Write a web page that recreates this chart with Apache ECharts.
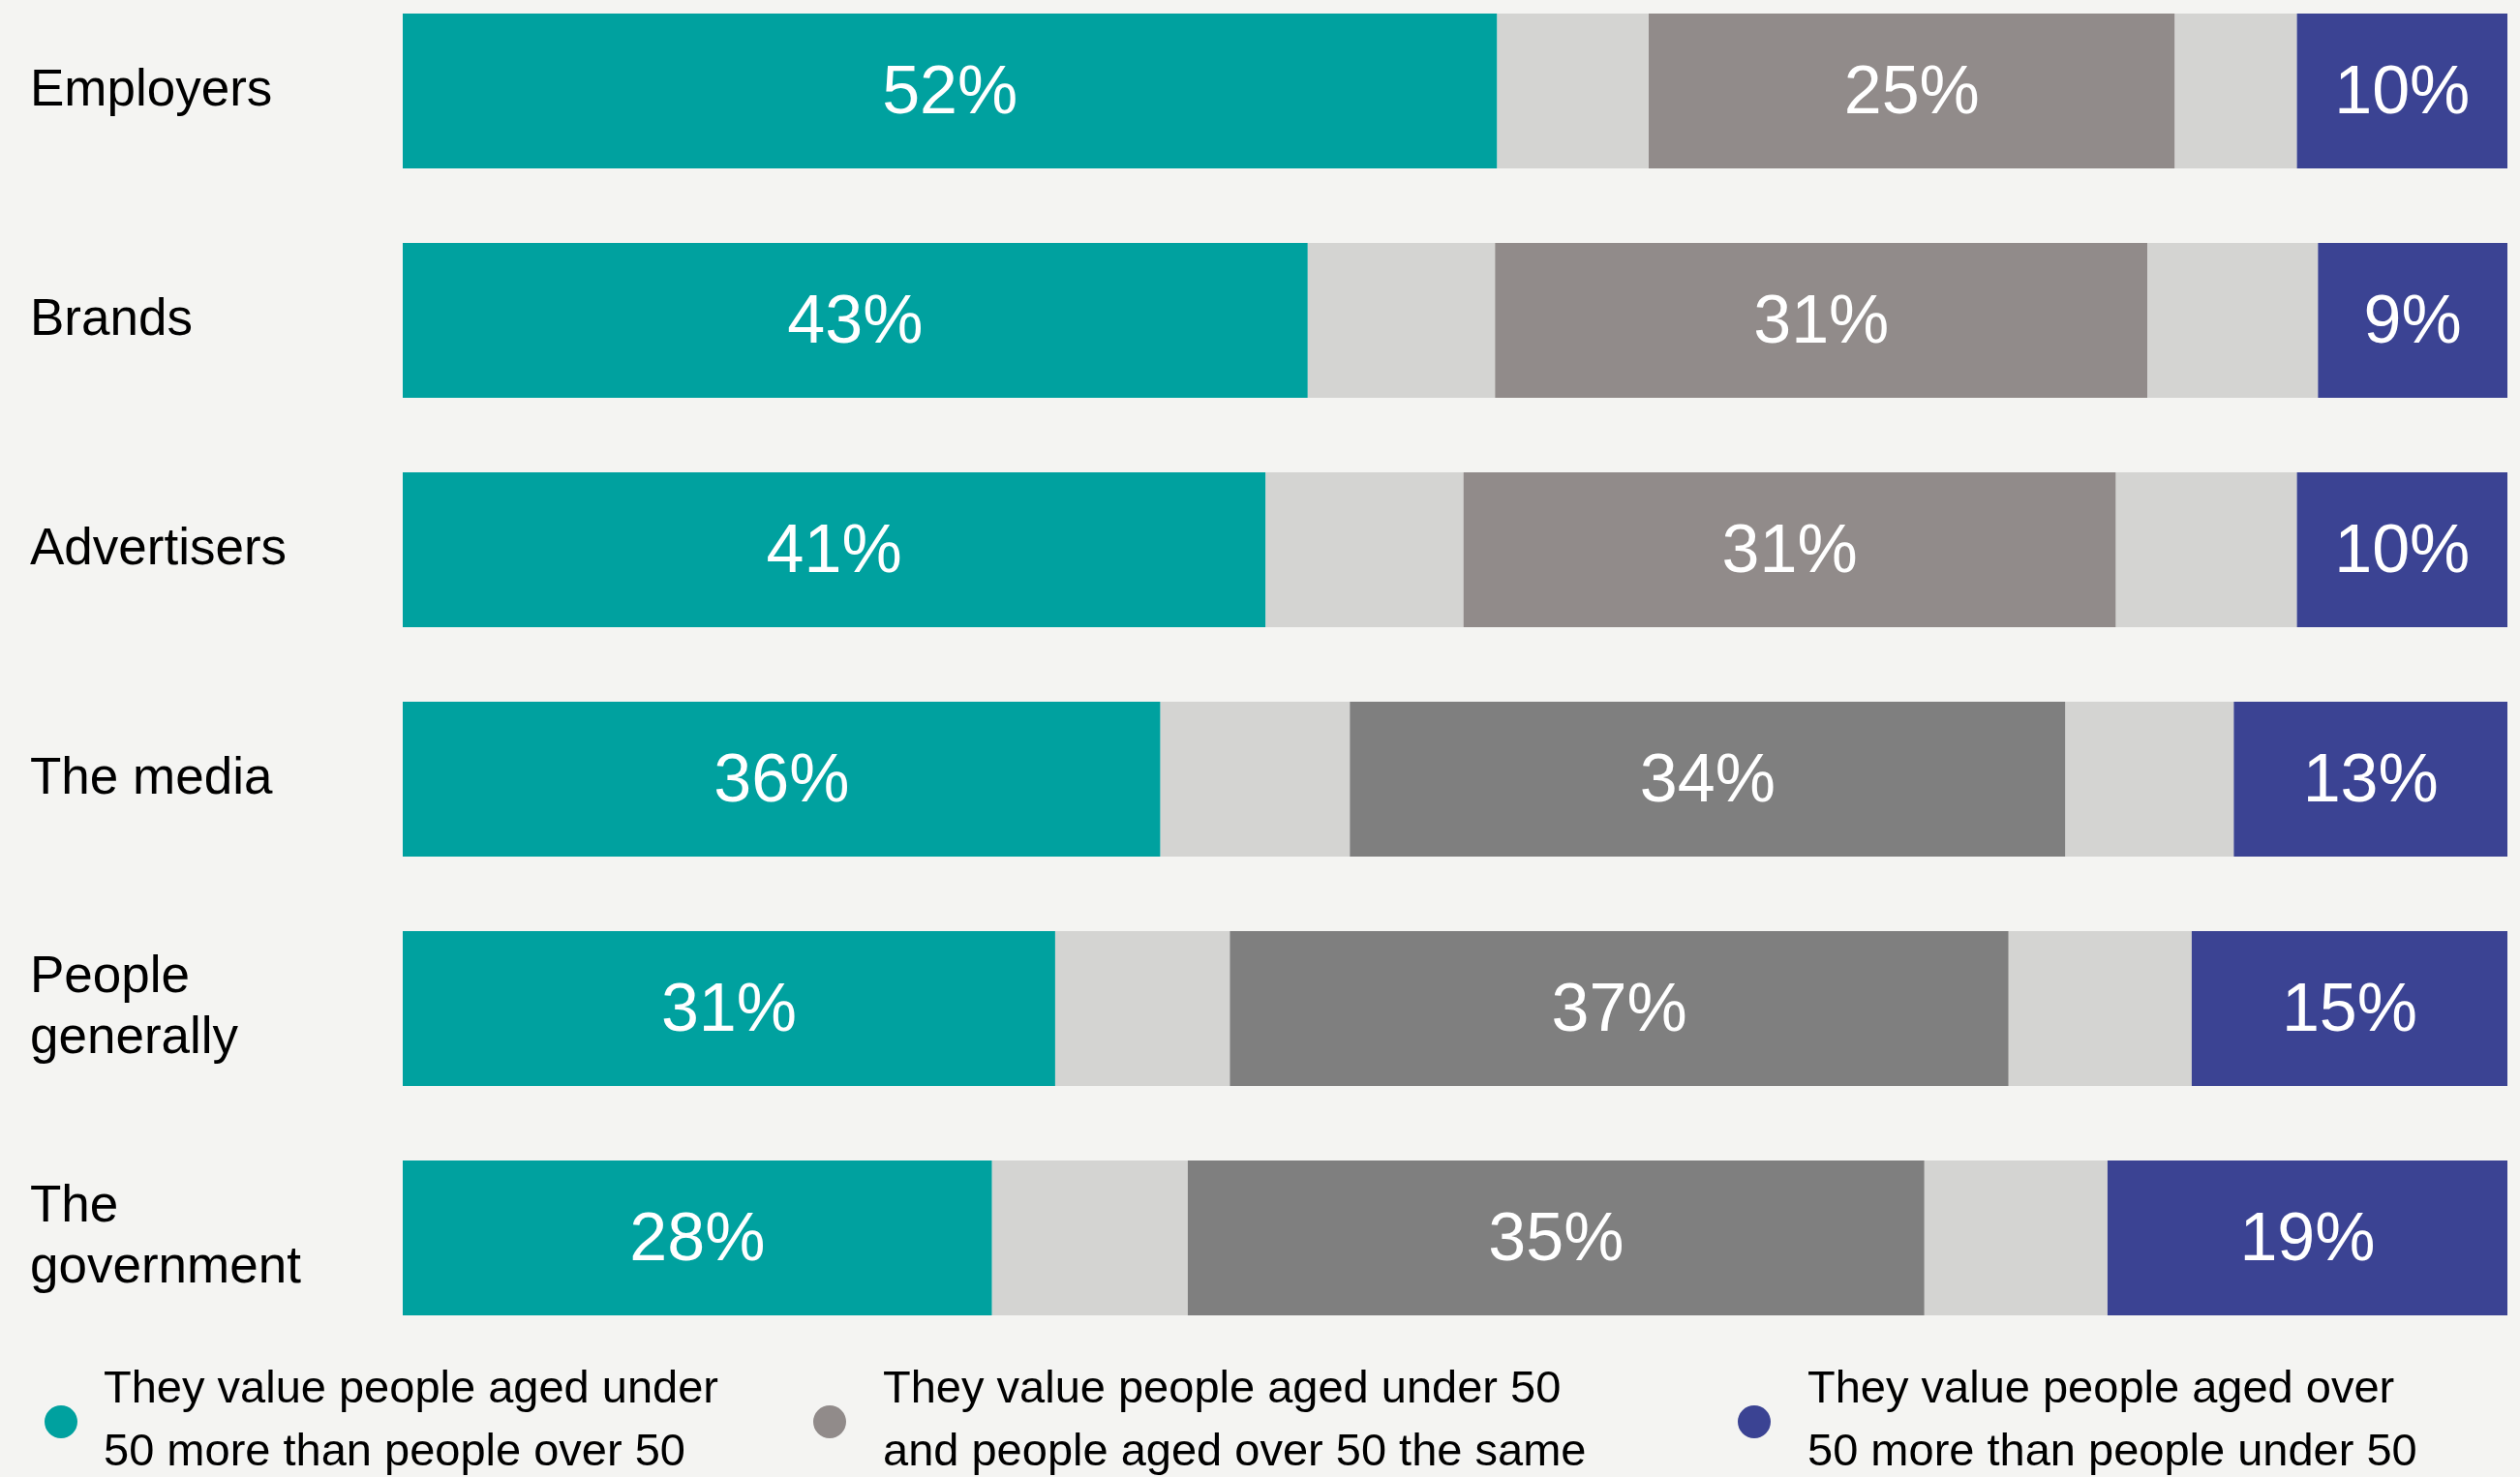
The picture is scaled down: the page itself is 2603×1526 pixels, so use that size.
<!DOCTYPE html>
<html>
  <head>
    <meta http-equiv="Content-Type" content="text/html; charset=UTF-8">
    <title>Value of people over 50</title>
    <style type="text/css">
      body {
        margin: 0;
        padding: 0;
        background-color: #f4f4f2;
      }
      #main {
        width: 2603px;
        height: 1526px;
      }
    </style>
  </head>
  <body>
    <div id="main"></div>
    <script src="https://cdn.jsdelivr.net/npm/echarts@6/dist/echarts.min.js" type="text/javascript" charset="utf-8"></script>
    <script type="text/javascript">
      // rows, top to bottom
      var categories = ['Employers', 'Brands', 'Advertisers', 'The media', 'People\ngenerally', 'The\ngovernment'];

      // labelled shares (%)
      var underMore = [52, 43, 41, 36, 31, 28];
      var same = [25, 31, 31, 34, 37, 35];
      var overMore = [10, 9, 10, 13, 15, 19];

      // unlabelled light grey pieces either side of the middle block
      var gapLeft = [7.2, 8.9, 9.4, 9, 8.3, 9.3];
      var gapRight = [5.8, 8.1, 8.6, 8, 8.7, 8.7];

      var legendNames = ['under', 'same', 'over'];
      var legendText = {
        under: 'They value people aged under\n50 more than people over 50',
        same: 'They value people aged under 50\nand people aged over 50 the same',
        over: 'They value people aged over\n50 more than people under 50'
      };

      var teal = '#00a19f';
      var lightGrey = '#d4d4d2';
      var warmGrey = '#918b8a';
      var darkGrey = '#7f7f7f';
      var navy = '#3b4393';

      var font = '"Liberation Sans", Arial, Helvetica, sans-serif';

      var valueLabel = {
        show: true,
        position: 'inside',
        offset: [0, 4],
        color: '#ffffff',
        fontSize: 70,
        fontFamily: font,
        formatter: function (p) { return p.value + '%'; }
      };

      // first three rows use a warmer grey for the middle block
      var sameData = same.map(function (v, i) {
        return { value: v, itemStyle: { color: i < 3 ? warmGrey : darkGrey } };
      });

      function legendAt(name, left, textGap) {
        return {
          data: [name],
          left: left,
          top: 1404,
          padding: 0,
          icon: 'circle',
          itemWidth: 34,
          itemHeight: 34,
          selectedMode: false,
          formatter: function (n) { return legendText[n]; },
          textStyle: {
            fontSize: 47,
            fontFamily: font,
            color: '#000000',
            lineHeight: 65,
            padding: [0, 0, 0, textGap]
          }
        };
      }

      function barSeries(name, color, data, withLabel) {
        return {
          name: name,
          type: 'bar',
          stack: 'all',
          barWidth: 160,
          clip: false,
          itemStyle: { color: color },
          label: withLabel ? valueLabel : { show: false },
          data: data
        };
      }

      var myChart = echarts.init(document.getElementById('main'));
      var option = {
        backgroundColor: '#f4f4f2',
        animation: false,
        legend: [
          legendAt(legendNames[0], 46, 22),
          legendAt(legendNames[1], 840, 33),
          legendAt(legendNames[2], 1795, 33)
        ],
        // bar centres sit on the category points (boundaryGap false)
        grid: {
          left: 416,
          right: 13,
          top: 94,
          bottom: 247
        },
        xAxis: {
          type: 'value',
          min: 0,
          max: 100,
          show: false
        },
        yAxis: {
          type: 'category',
          data: categories,
          inverse: true,
          boundaryGap: false,
          axisLine: { show: false },
          axisTick: { show: false },
          splitLine: { show: false },
          axisLabel: {
            align: 'left',
            margin: 385,
            fontSize: 53,
            lineHeight: 63,
            padding: [8, 0, 0, 0],
            fontFamily: font,
            color: '#000000'
          }
        },
        series: [
          barSeries('under', teal, underMore, true),
          barSeries('gapLeft', lightGrey, gapLeft, false),
          barSeries('same', warmGrey, sameData, true),
          barSeries('gapRight', lightGrey, gapRight, false),
          barSeries('over', navy, overMore, true)
        ]
      };
      myChart.setOption(option);
    </script>
  </body>
</html>
